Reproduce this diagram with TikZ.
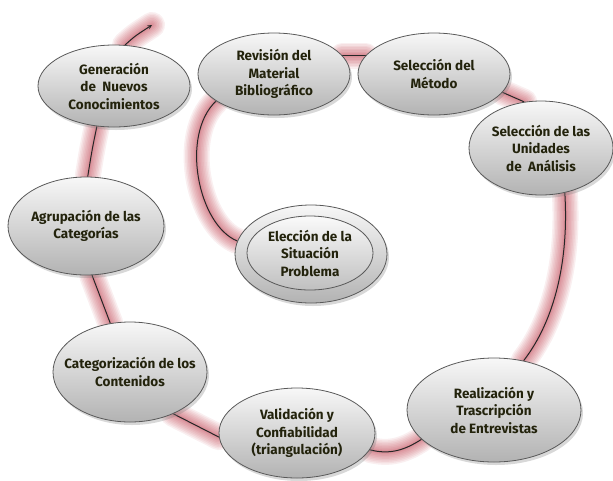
\documentclass[tikz,border=0pt]{standalone}
\usepackage{fontspec}
\setmainfont{Fira Sans}
\usetikzlibrary{shapes.geometric,shadows}
\definecolor{brillo}{RGB}{185,30,50}
\definecolor{letra}{RGB}{35,35,12}
\pgfdeclarelayer{fondo}
\pgfsetlayers{fondo,main}
\begin{document}
\begin{tikzpicture}[x=1pt,y=-1pt,line join=round,line cap=round,>=stealth,
	etapa/.style={ellipse,draw=black!65,line width=.8pt,top color=black!3,bottom color=black!30,inner sep=0pt,
		drop shadow={shadow xshift=2pt,shadow yshift=-3pt,opacity=.3}},
	nucleo/.style={ellipse,draw=black!65,line width=.8pt,top color=black!2,bottom color=black!25,inner sep=0pt},
	texto/.style={align=center,text=letra,font=\fontsize{13.5}{17.5}\selectfont\bfseries},
	halo/.style={preaction={-,draw=brillo,line cap=round,line width=#1,opacity=.07}},
	guia/.style={draw=black!85,line width=1pt,halo=26pt,halo=23pt,halo=20pt,halo=17pt,halo=14pt,halo=11pt,halo=8pt,halo=5pt,halo=3pt}]
	\useasboundingbox (0,0) rectangle (613,480);
	% etapas
	\node[etapa,minimum width=152,minimum height=98] (elec) at (311,254) {};
	\node[nucleo,minimum width=126,minimum height=74] (elecin) at (310,253) {};
	\node[etapa,minimum width=152,minimum height=82] (gen) at (114,86) {};
	\node[etapa,minimum width=152,minimum height=82] (rev) at (274,74) {};
	\node[etapa,minimum width=152,minimum height=82] (met) at (434,74) {};
	\node[etapa,minimum width=144,minimum height=94] (uni) at (541,148) {};
	\node[etapa,minimum width=156,minimum height=98] (agr) at (86,226) {};
	\node[etapa,minimum width=154,minimum height=100] (cat) at (130,372) {};
	\node[etapa,minimum width=156,minimum height=90] (val) at (297,433) {};
	\node[etapa,minimum width=174,minimum height=104] (rea) at (494,410) {};
	\coordinate (fin) at (152,25);
	% textos
	\node[texto] (telec) at (elecin) {Elección de la\\Situación\\Problema};
	\node[texto] (tgen) at (gen) {Generación\\de\ \ Nuevos\\Conocimientos};
	\node[texto] (trev) at (rev) {Revisión del\\Material\\Bibliográfico};
	\node[texto] (tmet) at (met) {Selección del\\Método};
	\node[texto] (tuni) at (uni) {Selección de las\\Unidades\\de\ \ Análisis};
	\node[texto] (tagr) at (agr) {Agrupación de las\\Categorías};
	\node[texto] (tcat) at (cat) {Categorización de los\\Contenidos};
	\node[texto] (tval) at (val) {Validación y\\Confiabilidad\\(triangulación)};
	\node[texto] (trea) at (rea) {Realización y\\Trascripción\\de Entrevistas};
	% recorrido
	\begin{pgfonlayer}{fondo}
		\fill[white] (0,0) rectangle (613,480);
		\draw[guia] (elec.170) .. controls (198,225) and (180,135) .. (rev.205);
		\draw[guia] (rev.15) -- (met.165);
		\draw[guia] (met.-15) -- (uni.110);
		\draw[guia] (uni.-62) .. controls (569,260) and (555,320) .. (rea.59);
		\draw[guia] (rea.202) .. controls (405,450) and (390,455) .. (val.-13);
		\draw[guia] (val.183) -- (cat.-44);
		\draw[guia] (cat.112) -- (agr.-83);
		\draw[guia] (agr.88) .. controls (92,150) .. (gen.247);
		\draw[guia,->] (gen.75) .. controls (135,36) .. (fin);
	\end{pgfonlayer}
\end{tikzpicture}
\end{document}
